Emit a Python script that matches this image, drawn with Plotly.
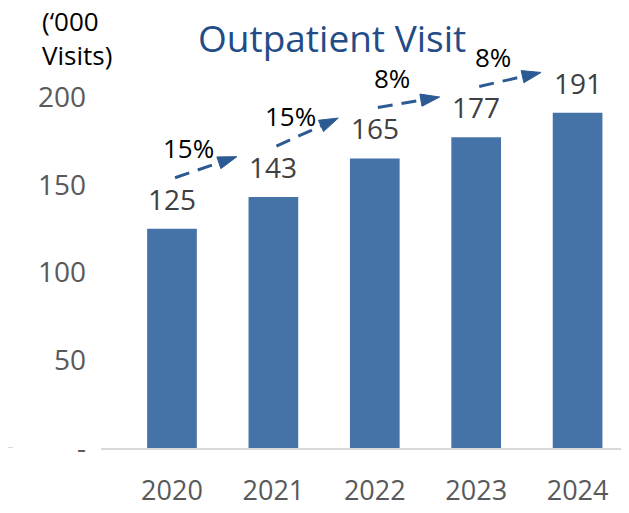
import plotly.graph_objects as go

years = ["2020", "2021", "2022", "2023", "2024"]
visits = [125, 143, 165, 177, 191]
growth_labels = ["15%", "15%", "8%", "8%"]
y_tickvals = [0, 50, 100, 150, 200]
y_ticktext = ["-", "50", "100", "150", "200"]

FONT = "Open Sans"
BAR_COLOR = "#4573A8"
ARROW_COLOR = "#2C5A92"
TITLE_COLOR = "#234C86"

xs = list(range(len(years)))

fig = go.Figure()
fig.add_trace(go.Bar(
    x=xs, y=visits, width=0.49,
    marker=dict(color=BAR_COLOR, line=dict(width=0)),
    hoverinfo="skip",
))

# value labels
for i, v in enumerate(visits):
    fig.add_annotation(x=i, y=v, text=str(v), showarrow=False,
                       yanchor="middle", yshift=30,
                       font=dict(family=FONT, size=28, color="#404040"))

# growth arrows (dashed) and growth labels
for i, lab in enumerate(growth_labels):
    x0, y0 = i + 0.03, visits[i] + 29
    x1, y1 = i + 0.64, visits[i + 1] + 23
    fig.add_trace(go.Scatter(
        x=[x0, x1], y=[y0, y1], mode="lines+markers",
        line=dict(color=ARROW_COLOR, width=3, dash="15px,9px"),
        marker=dict(symbol="arrow", size=[0, 20], angleref="previous",
                    color=ARROW_COLOR, opacity=1,
                    line=dict(width=1, color=ARROW_COLOR)),
        hoverinfo="skip",
    ))
    fig.add_annotation(x=i + 0.165, y=visits[i] + 46, text=lab, showarrow=False,
                       xanchor="center", yanchor="middle",
                       font=dict(family=FONT, size=26, color="#000000"))

fig.add_annotation(xref="paper", yref="paper", x=0.4375, y=1.0, yshift=7,
                   text="Outpatient Visit", showarrow=False,
                   xanchor="center", yanchor="middle",
                   font=dict(family=FONT, size=37, color=TITLE_COLOR))

fig.add_annotation(xref="paper", yref="paper", x=-0.1155, y=1.0, yshift=6,
                   text="(‘000<br>Visits)", showarrow=False, align="left",
                   xanchor="left", yanchor="middle",
                   font=dict(family=FONT, size=26, color="#000000"))

# short baseline stub at the far left
fig.add_shape(type="line", xref="paper", yref="y", x0=-0.177, x1=-0.1667, y0=0, y1=0,
              line=dict(color="#D9D9D9", width=2))

fig.update_layout(
    width=621, height=505,
    margin=dict(l=93, r=0, t=36, b=65),
    plot_bgcolor="white", paper_bgcolor="white",
    showlegend=False,
    font=dict(family=FONT),
    xaxis=dict(range=[-0.70, 4.507], tickvals=xs, ticktext=years,
               showgrid=False, zeroline=False, showline=True,
               linecolor="#D9D9D9", linewidth=2, ticks="",
               tickfont=dict(family=FONT, size=27, color="#595959"),
               ticklabelstandoff=18, fixedrange=True),
    yaxis=dict(range=[0, 230.2], tickvals=y_tickvals, ticktext=y_ticktext,
               showgrid=False, zeroline=False, showline=False, ticks="",
               tickfont=dict(family=FONT, size=28, color="#595959"),
               ticklabelstandoff=14, fixedrange=True),
)

fig.write_html("out.html")
